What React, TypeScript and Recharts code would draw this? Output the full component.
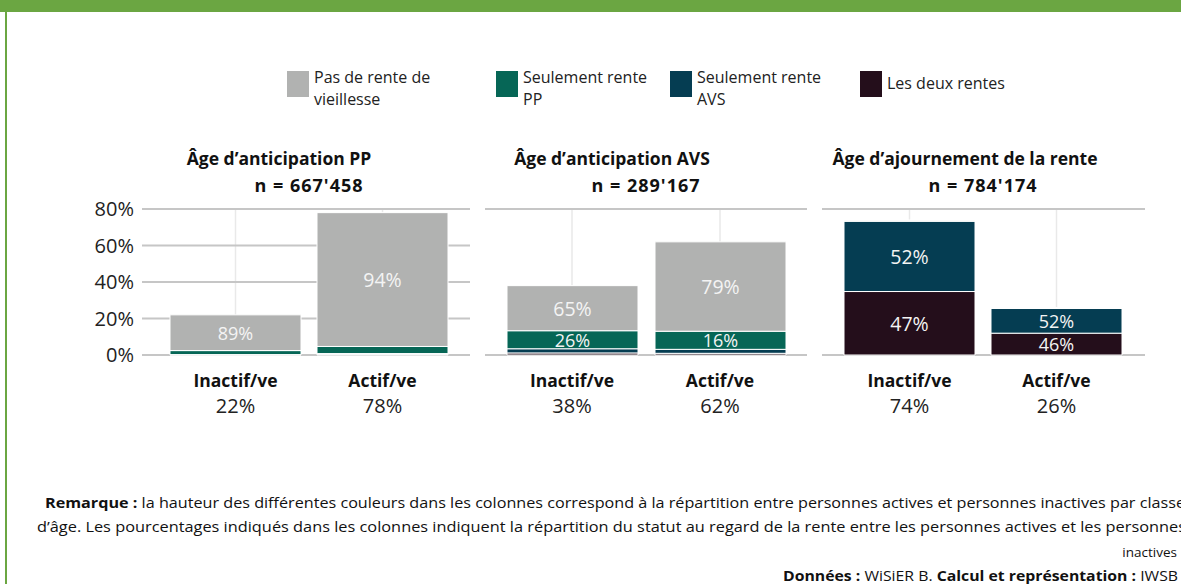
import { BarChart, Bar, XAxis, YAxis, CartesianGrid, LabelList } from 'recharts'

// categories and titles
const CATEGORIES = ['Inactif/ve', 'Actif/ve']
const PANEL_TITLES = ['Âge d’anticipation PP', 'Âge d’anticipation AVS', 'Âge d’ajournement de la rente']
const PANEL_N = ["n = 667'458", "n = 289'167", "n = 784'174"]

// share of inactive / active persons per panel (bar height)
const GROUP_SHARE = [
  [22, 78],
  [38, 62],
  [74, 26],
]

// pension status distribution inside each column (%)
const NO_PENSION = [
  [89, 94],
  [65, 79],
  [0.5, 1],
]
const ONLY_PP = [
  [10, 5],
  [26, 16],
  [0.5, 1],
]
const ONLY_AVS = [
  [0.5, 0.6],
  [6, 3.5],
  [52, 52],
]
const BOTH = [
  [0.5, 0.4],
  [3, 1.5],
  [47, 46],
]

const Y_TICKS = [0, 20, 40, 60, 80]

// stacking order, bottom to top
const SERIES = [
  { key: 'both', legend: ['Les deux rentes'], color: '#240e1b', shares: BOTH },
  { key: 'avs', legend: ['Seulement rente', 'AVS'], color: '#053d52', shares: ONLY_AVS },
  { key: 'pp', legend: ['Seulement rente', 'PP'], color: '#066656', shares: ONLY_PP },
  { key: 'none', legend: ['Pas de rente de', 'vieillesse'], color: '#b1b2b1', shares: NO_PENSION },
]

const FONT = '"Open Sans", sans-serif'

// layout of the three panels
const PANELS = [
  { left: 0, width: 480, margin: { top: 209, right: 10, bottom: 5, left: 0 }, yWidth: 142, pad: { left: 20, right: 14 }, titleX: 279, nX: 309 },
  { left: 480, width: 335, margin: { top: 209, right: 8, bottom: 5, left: 5 }, yWidth: 0, pad: { left: 13, right: 13 }, titleX: 612, nX: 646 },
  { left: 815, width: 340, margin: { top: 209, right: 10, bottom: 5, left: 7 }, yWidth: 0, pad: { left: 14, right: 15 }, titleX: 965, nX: 983 },
]
const LEGEND_X = [287, 496, 670, 860]

function buildData(p: number) {
  return CATEGORIES.map((cat, j) => {
    const row: Record<string, number | string> = { cat, group: GROUP_SHARE[p][j] }
    SERIES.forEach((s) => {
      row[s.key] = (GROUP_SHARE[p][j] * s.shares[p][j]) / 100
      row[s.key + 'Share'] = s.shares[p][j]
    })
    return row
  })
}

function CategoryTick(props: any) {
  const { x, y, payload, data } = props
  const row = data.find((d: any) => d.cat === payload.value)
  return (
    <g transform={`translate(${x},${y})`}>
      <text textAnchor="middle" y={32} fontFamily={FONT} fontWeight={700} fontSize={17.5} fill="#111">
        {payload.value}
      </text>
      <text textAnchor="middle" y={58} fontFamily={FONT} fontSize={20} fill="#222">
        {row ? row.group : ''}%
      </text>
    </g>
  )
}

function SegmentLabel(props: any) {
  const { x, y, width, height, value } = props
  if (value < 15) return null
  const size = height > 40 ? 19.5 : 18
  return (
    <text
      x={x + width / 2}
      y={y + height / 2}
      textAnchor="middle"
      dominantBaseline="central"
      fontFamily={FONT}
      fontSize={size}
      fill="#f4f4f4"
    >
      {value}%
    </text>
  )
}

function Panel({ index }: { index: number }) {
  const cfg = PANELS[index]
  const data = buildData(index)
  return (
    <div style={{ position: 'absolute', left: cfg.left, top: 0 }}>
      <BarChart width={cfg.width} height={430} data={data} margin={cfg.margin} barSize={131}>
        <CartesianGrid horizontal={false} stroke="#e9e9e9" strokeWidth={1.5} syncWithTicks />
        <CartesianGrid vertical={false} stroke="#c6c6c6" strokeWidth={2} />
        <XAxis
          dataKey="cat"
          axisLine={false}
          tickLine={false}
          tickSize={0}
          tickMargin={0}
          height={70}
          padding={cfg.pad}
          interval={0}
          tick={<CategoryTick data={data} />}
        />
        <YAxis
          domain={[0, 80]}
          ticks={Y_TICKS}
          width={cfg.yWidth}
          axisLine={false}
          tickLine={false}
          tick={cfg.yWidth > 0 ? { fontFamily: FONT, fontSize: 20, fill: '#222' } : false}
          tickFormatter={(v: number) => `${v}%`}
        />
        {SERIES.map((s) => (
          <Bar key={s.key} dataKey={s.key} stackId="a" fill={s.color} stroke="#fff" strokeWidth={1} isAnimationActive={false}>
            <LabelList dataKey={s.key + 'Share'} content={<SegmentLabel />} />
          </Bar>
        ))}
      </BarChart>
    </div>
  )
}

function Legend() {
  const items = [...SERIES].reverse()
  return (
    <>
      {items.map((s, i) => (
        <div key={s.key} style={{ position: 'absolute', left: LEGEND_X[i], top: 71, display: 'flex', fontFamily: FONT, fontSize: 16, color: '#222', lineHeight: '22px' }}>
          <div style={{ width: 22, height: 26, background: s.color, marginRight: 5, marginTop: 0 }} />
          <div style={{ marginTop: s.legend.length === 1 ? 1 : -5 }}>
            {s.legend.map((l) => (
              <div key={l}>{l}</div>
            ))}
          </div>
        </div>
      ))}
    </>
  )
}

export default function App() {
  return (
    <div style={{ position: 'absolute', left: 0, top: 0, width: 1181, height: 584, overflow: 'hidden', background: '#fff' }}>
      <div style={{ position: 'absolute', left: 0, top: 0, width: 1181, height: 12, background: '#6ba642' }} />
      <div style={{ position: 'absolute', left: 5, top: 0, width: 2, height: 584, background: '#6ba642' }} />
      <Legend />
      {PANELS.map((p, i) => (
        <Panel key={i} index={i} />
      ))}
      {PANELS.map((p, i) => (
        <div key={'t' + i}>
          <div style={{ position: 'absolute', left: p.titleX, top: 146, transform: 'translateX(-50%)', whiteSpace: 'nowrap', fontFamily: FONT, fontWeight: 700, fontSize: 17.5, color: '#111' }}>
            {PANEL_TITLES[i]}
          </div>
          <div style={{ position: 'absolute', left: p.nX, top: 173, transform: 'translateX(-50%)', whiteSpace: 'nowrap', fontFamily: FONT, fontWeight: 700, fontSize: 18, letterSpacing: 1, color: '#111' }}>
            {PANEL_N[i]}
          </div>
        </div>
      ))}
      <svg width={1181} height={584} style={{ position: 'absolute', left: 0, top: 0, pointerEvents: 'none' }}>
        <g fontFamily={FONT} fontSize={14.5} fill="#111">
          <text x={45} y={508} textLength={1140} lengthAdjust="spacingAndGlyphs">
            <tspan fontWeight={700}>Remarque :</tspan> la hauteur des différentes couleurs dans les colonnes correspond à la répartition entre personnes actives et personnes inactives par classe
          </text>
          <text x={37} y={532} textLength={1149} lengthAdjust="spacingAndGlyphs">
            d’âge. Les pourcentages indiqués dans les colonnes indiquent la répartition du statut au regard de la rente entre les personnes actives et les personnes
          </text>
          <text x={1177} y={557} textAnchor="end" fontSize={13.5}>
            inactives
          </text>
          <text x={783} y={581} textLength={395} lengthAdjust="spacingAndGlyphs">
            <tspan fontWeight={700}>Données :</tspan> WiSiER B. <tspan fontWeight={700}>Calcul et représentation :</tspan> IWSB
          </text>
        </g>
      </svg>
    </div>
  )
}
